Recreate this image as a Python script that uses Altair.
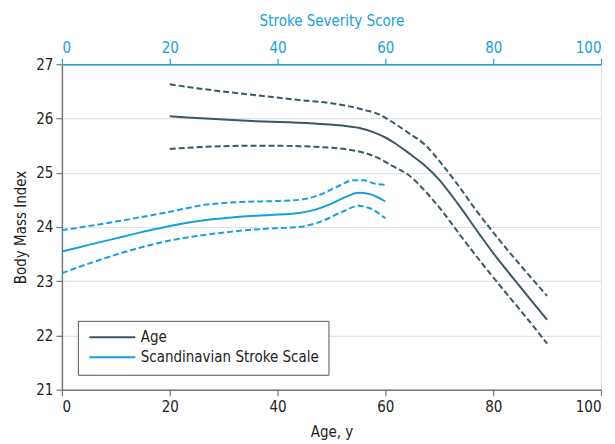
import altair as alt
import pandas as pd

DARK = "#3a5865"
BLUE = "#17a0dd"
FONT = "Liberation Sans Narrow, DejaVu Sans Condensed, Roboto, sans-serif"
FS = 15

# Age curve (x = age, years)
age_x = [20, 25, 30, 36, 42, 48, 52, 55, 58, 60, 62, 64.5, 67, 70, 73.5, 77.5, 80, 84, 87, 90]
age_est = [26.04, 26.01, 25.98, 25.95, 25.93, 25.90, 25.87, 25.83, 25.74, 25.65, 25.53, 25.35,
           25.16, 24.87, 24.42, 23.86, 23.52, 23.02, 22.65, 22.29]
age_up_x = [20, 28, 36, 44, 50, 53, 56, 58.7, 61.2, 64.2, 67.3, 70.4, 73.5, 76.6, 80.9, 85, 90]
age_up = [26.63, 26.52, 26.43, 26.34, 26.28, 26.23, 26.16, 26.08, 25.94, 25.74, 25.52, 25.17,
          24.77, 24.34, 23.79, 23.30, 22.73]
age_lo_x = [20, 30, 37, 44, 50, 53, 56, 58.7, 61.2, 64.3, 67.3, 70.4, 74.1, 78, 82, 86, 90]
age_lo = [25.44, 25.49, 25.50, 25.49, 25.46, 25.43, 25.37, 25.27, 25.13, 24.96, 24.67, 24.31,
          23.82, 23.32, 22.83, 22.35, 21.85]

# Scandinavian Stroke Scale curve (x = stroke severity score)
sss_x = [0, 5, 10, 15, 20, 26, 33, 40, 44, 47, 50, 53, 55, 57, 60]
sss_est = [23.55, 23.67, 23.79, 23.91, 24.02, 24.12, 24.19, 24.23, 24.26, 24.32, 24.43, 24.57,
           24.63, 24.61, 24.47]
sss_up_x = [0, 10, 20, 26, 33, 40, 44, 48, 51, 54, 56, 58, 60]
sss_up = [23.94, 24.10, 24.28, 24.40, 24.46, 24.48, 24.50, 24.60, 24.74, 24.86, 24.86, 24.80, 24.78]
sss_lo_x = [0, 6, 11, 20, 27, 33, 40, 44, 48, 52, 55, 57, 60]
sss_lo = [23.15, 23.36, 23.52, 23.75, 23.86, 23.93, 23.98, 24.00, 24.10, 24.28, 24.39, 24.35, 24.16]

series_names = ["Age", "Scandinavian Stroke Scale"]
x_ticks = [0, 20, 40, 60, 80, 100]
y_ticks = [21, 22, 23, 24, 25, 26, 27]


def frame(xs, ys, series, bound):
    return pd.DataFrame({"x": xs, "y": ys, "series": series, "bound": bound})


age_main = frame(age_x, age_est, "Age", "est")
age_ci = pd.concat([frame(age_up_x, age_up, "Age", "upper"), frame(age_lo_x, age_lo, "Age", "lower")])
sss_main = frame(sss_x, sss_est, "Scandinavian Stroke Scale", "est")
sss_ci = pd.concat([frame(sss_up_x, sss_up, "Scandinavian Stroke Scale", "upper"),
                    frame(sss_lo_x, sss_lo, "Scandinavian Stroke Scale", "lower")])

color_scale = alt.Scale(domain=series_names, range=[DARK, BLUE])

y_enc = alt.Y("y:Q", scale=alt.Scale(domain=[21, 27], nice=False, zero=False),
              axis=alt.Axis(title="Body Mass Index", values=y_ticks, grid=True, gridColor="#e3e3e3",
                            gridWidth=1.2, domainColor="#777", domainWidth=1.5, tickColor="#777",
                            tickWidth=1.2, tickSize=6, labelFontSize=FS, labelColor="#222",
                            labelFont=FONT, titleFont=FONT, titleFontSize=FS, titleFontWeight="normal",
                            titleColor="#222", titlePadding=7, labelPadding=3))

x_bottom = alt.X("x:Q", scale=alt.Scale(domain=[0, 100], nice=False),
                 axis=alt.Axis(orient="bottom", title="Age, y", values=x_ticks, grid=False,
                               domainColor="#777", domainWidth=1.5, tickColor="#777", tickWidth=1.2,
                               tickSize=6, labelFontSize=FS, labelColor="#222", labelFont=FONT,
                               titleFont=FONT, titleFontSize=FS, titleFontWeight="normal",
                               titleColor="#222", titlePadding=10, labelPadding=4))

x_top = alt.X("x:Q", scale=alt.Scale(domain=[0, 100], nice=False),
              axis=alt.Axis(orient="top", title="Stroke Severity Score", values=x_ticks, grid=False,
                            domainColor=BLUE, domainWidth=1.5, tickColor=BLUE, tickWidth=1.2,
                            tickSize=6, labelFontSize=FS, labelColor=BLUE, labelFont=FONT,
                            titleFont=FONT, titleFontSize=FS, titleFontWeight="normal",
                            titleColor=BLUE, titlePadding=12, labelPadding=3))

legend = alt.Legend(orient="none", legendX=16, legendY=257, title=None, strokeColor="#555",
                    fillColor="white", padding=9, symbolType="M-1,0H8.2", symbolSize=100,
                    symbolStrokeWidth=2, labelFontSize=FS, labelFont=FONT, labelColor="#222",
                    labelOffset=39, labelLimit=400, rowPadding=4, direction="vertical")

age_solid = alt.Chart(age_main).mark_line(strokeWidth=2, interpolate="monotone").encode(
    x=x_bottom, y=y_enc,
    color=alt.Color("series:N", scale=color_scale, legend=legend))
age_dash = alt.Chart(age_ci).mark_line(strokeWidth=2, strokeDash=[6, 3], color=DARK,
                                       interpolate="monotone").encode(
    x=x_bottom, y=y_enc, detail="bound:N")

sss_solid = alt.Chart(sss_main).mark_line(strokeWidth=2, interpolate="monotone").encode(
    x=x_top, y=y_enc,
    color=alt.Color("series:N", scale=color_scale, legend=legend))
sss_dash = alt.Chart(sss_ci).mark_line(strokeWidth=2, strokeDash=[6, 3], color=BLUE,
                                       interpolate="monotone").encode(
    x=x_top, y=y_enc, detail="bound:N")

chart = alt.layer(
    alt.layer(age_solid, age_dash),
    alt.layer(sss_solid, sss_dash),
).resolve_scale(x="independent").properties(
    width=540, height=326
).configure_view(stroke=None).configure(background="white")

chart.save("out.html", embed_options={"renderer": "svg", "actions": False})
